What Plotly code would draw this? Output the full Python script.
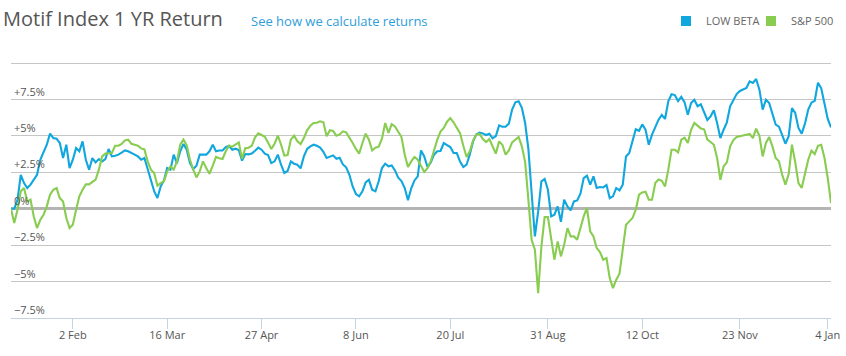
import plotly.graph_objects as go
import pandas as pd

# ---- data -------------------------------------------------------------
START = "2015-01-05"
END = "2016-01-05"
HOLIDAYS = ["2015-01-19", "2015-02-16", "2015-04-03", "2015-05-25", "2015-07-03",
            "2015-09-07", "2015-11-26", "2015-12-25", "2016-01-01"]

TICK_DATES = ["2015-02-02", "2015-03-16", "2015-04-27", "2015-06-08", "2015-07-20",
              "2015-08-31", "2015-10-12", "2015-11-23", "2016-01-04"]
TICK_LABELS = ["2 Feb", "16 Mar", "27 Apr", "8 Jun", "20 Jul",
               "31 Aug", "12 Oct", "23 Nov", "4 Jan"]

Y_TICKS = [-7.5, -5, -2.5, 0, 2.5, 5, 7.5, 10]
Y_LABELS = ["\u22127.5%", "\u22125%", "\u22122.5%", "0%", "+2.5%", "+5%", "+7.5%", ""]

LOW_BETA = [
    0.00, 0.00, 0.60, 2.33, 1.76, 1.42, 1.65, 2.00, 2.33, 3.36,
    3.94, 4.39, 5.15, 4.85, 4.81, 4.51, 3.48, 4.39, 2.79, 3.36,
    4.16, 3.94, 4.62, 3.36, 2.68, 3.48, 3.18, 3.41, 3.25, 3.41,
    4.10, 3.59, 3.64, 3.71, 3.85, 4.00, 3.94, 3.85, 3.71, 3.59,
    3.36, 3.48, 2.68, 1.90, 1.20, 0.73, 1.53, 1.94, 2.79, 2.68,
    3.71, 3.13, 3.94, 4.44, 4.05, 3.13, 2.72, 2.95, 3.71, 3.71,
    3.71, 3.94, 4.40, 3.94, 4.00, 4.00, 4.23, 4.32, 4.05, 4.12,
    4.03, 3.30, 3.75, 3.73, 3.78, 3.98, 4.19, 4.05, 3.78, 3.68,
    3.13, 3.25, 3.71, 3.02, 2.45, 2.59, 3.25, 3.09, 3.02, 2.77,
    3.59, 4.10, 4.28, 4.39, 4.32, 4.19, 3.91, 3.48, 3.59, 3.66,
    3.43, 3.50, 3.04, 2.84, 2.33, 1.53, 1.01, 0.85, 1.19, 1.81,
    1.99, 1.30, 1.19, 1.88, 2.79, 3.09, 2.91, 2.97, 2.63, 2.13,
    1.90, 1.42, 0.59, 1.40, 1.94, 2.22, 4.00, 3.59, 2.86, 3.18,
    3.71, 3.94, 3.96, 4.51, 4.37, 4.23, 3.82, 3.82, 3.23, 2.86,
    3.02, 3.73, 4.62, 5.10, 5.22, 5.17, 5.06, 5.15, 4.83, 4.99,
    5.72, 5.63, 5.63, 5.84, 6.80, 7.30, 7.37, 6.93, 5.88, 4.10,
    1.08, -1.90, -0.20, 1.88, 2.04, 1.30, -0.53, -0.41, 0.16, -0.90,
    0.62, 0.16, -0.11, 0.50, 0.57, 1.03, 2.10, 2.27, 1.65, 2.22,
    1.42, 1.49, 1.46, 1.62, 0.73, 0.85, 1.42, 1.26, 1.65, 3.59,
    3.82, 4.55, 5.45, 5.35, 5.79, 5.42, 4.39, 5.08, 5.65, 6.11,
    6.43, 6.16, 7.37, 7.85, 7.80, 7.39, 7.67, 7.30, 6.45, 7.25,
    7.48, 7.03, 7.16, 6.57, 6.09, 6.34, 6.75, 5.88, 4.85, 5.42,
    5.93, 7.03, 7.44, 7.87, 8.08, 8.19, 8.28, 8.74, 8.63, 8.90,
    8.17, 6.80, 7.48, 7.25, 6.45, 5.77, 5.63, 5.08, 4.46, 4.97,
    6.90, 6.57, 5.54, 5.15, 5.84, 6.80, 7.28, 7.41, 8.65, 8.26,
    7.30, 6.16, 5.58,
]

SP500 = [
    0.00, -0.98, -0.07, 1.19, 1.42, 0.50, 0.62, -0.53, -1.33, -0.76,
    -0.41, 0.16, 0.96, 1.30, 1.42, 0.73, 0.50, -0.64, -1.33, -1.10,
    -0.07, 0.85, 1.30, 1.67, 1.67, 1.81, 1.99, 2.68, 3.59, 3.78,
    3.78, 3.82, 4.32, 4.32, 4.45, 4.69, 4.74, 4.46, 4.39, 4.32,
    4.14, 4.07, 3.25, 2.68, 2.45, 1.58, 1.76, 1.88, 2.56, 2.91,
    2.68, 3.25, 4.39, 4.74, 4.35, 3.36, 2.68, 2.15, 2.56, 3.25,
    2.79, 2.40, 2.95, 3.55, 3.46, 3.41, 3.94, 4.32, 4.26, 4.39,
    4.55, 3.43, 4.15, 4.19, 4.32, 4.90, 5.17, 5.06, 4.94, 4.55,
    4.10, 4.46, 5.01, 4.39, 3.64, 3.68, 4.74, 5.01, 4.62, 4.44,
    4.85, 5.38, 5.70, 5.88, 5.90, 6.00, 5.93, 4.97, 5.38, 5.33,
    5.01, 5.10, 5.31, 5.24, 4.92, 4.51, 4.10, 3.78, 4.51, 5.15,
    4.74, 4.00, 4.19, 4.26, 4.80, 5.88, 5.20, 5.80, 5.65, 5.29,
    4.92, 3.71, 2.86, 3.25, 3.55, 3.36, 2.91, 2.52, 2.79, 3.25,
    4.00, 4.74, 5.29, 5.54, 5.97, 6.22, 5.93, 5.54, 5.19, 4.32,
    3.55, 3.94, 4.67, 5.10, 5.13, 4.78, 4.58, 4.78, 4.23, 3.78,
    4.62, 4.39, 3.71, 4.00, 4.55, 4.74, 4.92, 4.28, 3.20, 0.62,
    -2.13, -2.81, -5.79, -2.59, -0.57, -0.57, -2.13, -3.50, -2.24, -3.27,
    -2.47, -1.33, -1.90, -1.90, -2.13, -1.33, -0.53, 0.05, -1.56, -1.90,
    -2.70, -2.97, -3.50, -3.39, -4.76, -5.45, -4.87, -4.46, -2.93, -1.10,
    -0.87, -0.64, -0.07, 0.96, 1.12, 1.17, 0.62, 0.62, 1.76, 2.01,
    1.92, 1.53, 2.68, 4.05, 4.05, 3.87, 4.74, 4.87, 4.51, 5.42,
    5.88, 5.70, 5.51, 5.45, 4.74, 4.58, 4.39, 3.48, 1.99, 2.91,
    3.18, 4.28, 4.71, 4.92, 4.99, 5.03, 5.08, 5.13, 4.85, 5.50,
    5.00, 3.59, 4.51, 4.92, 4.28, 3.48, 3.25, 2.33, 1.65, 2.38,
    4.40, 3.20, 1.76, 1.42, 2.33, 3.36, 3.98, 3.75, 4.32, 4.39,
    3.48, 2.10, 0.39,
]

SERIES = [("LOW BETA", LOW_BETA, "#10a6de"), ("S&P 500", SP500, "#88cc50")]

# trading-day calendar (NYSE sessions)
dates = pd.bdate_range(START, END, freq="C", holidays=HOLIDAYS)

# ---- figure -----------------------------------------------------------
fig = go.Figure()
for name, vals, color in SERIES:
    fig.add_trace(go.Scatter(
        x=dates[:len(vals)], y=vals, mode="lines", name=name,
        line=dict(color=color, width=2.1), legendgroup=name, showlegend=False,
        hovertemplate="%{y:.2f}%<extra>" + name + "</extra>",
    ))
for name, vals, color in SERIES:
    fig.add_trace(go.Scatter(
        x=[None], y=[None], mode="markers", name=name, legendgroup=name,
        marker=dict(symbol="square", size=10, color=color),
    ))

FONT = "Open Sans, Arial, sans-serif"
W, H = 846, 356
Y_TOP_PAD = 2                       # px above the +10% gridline so it is drawn
ML, MR, MT, MB = 11, 15, 63 - Y_TOP_PAD, 38
PW, PH = W - ML - MR, H - MT - MB
Y_MIN, Y_MAX = -7.5, 10.0
Y_MAX_R = Y_MAX + Y_TOP_PAD * (Y_MAX - Y_MIN) / (PH - Y_TOP_PAD)


def px_x(p):
    return (p - ML) / PW


def px_y(p):
    return 1 + (MT - p) / PH


fig.update_layout(
    width=W, height=H,
    margin=dict(l=ML, r=MR, t=MT, b=MB, pad=0, autoexpand=False),
    paper_bgcolor="white", plot_bgcolor="white",
    font=dict(family=FONT, color="#555555", size=11),
    showlegend=True,
    legend=dict(
        orientation="h", x=px_x(666), y=px_y(21), xanchor="left", yanchor="middle",
        font=dict(size=11, color="#666666"), bgcolor="rgba(0,0,0,0)",
        entrywidth=40, entrywidthmode="pixels", itemwidth=30,
    ),
    annotations=[
        dict(text="Motif Index 1 YR Return", xref="paper", yref="paper",
             x=px_x(1), y=px_y(19), xanchor="left", yanchor="middle", showarrow=False,
             font=dict(size=20, color="#555555", family=FONT)),
        dict(text="See how we calculate returns", xref="paper", yref="paper",
             x=px_x(249), y=px_y(21), xanchor="left", yanchor="middle", showarrow=False,
             font=dict(size=13, color="#2f9ddb", family=FONT)),
    ],
    xaxis=dict(
        type="date", range=[dates[0], dates[-1]],
        rangebreaks=[dict(bounds=["sat", "mon"]), dict(values=HOLIDAYS)],
        tickvals=TICK_DATES, ticktext=TICK_LABELS,
        ticks="outside", ticklen=10, tickwidth=1, tickcolor="#c4d2e2",
        ticklabelstandoff=-3,
        showline=True, linecolor="#c4d2e2", linewidth=1,
        showgrid=False, zeroline=False,
        tickfont=dict(size=11, color="#555555"),
        fixedrange=True,
    ),
    yaxis=dict(
        range=[Y_MIN, Y_MAX_R], tickvals=Y_TICKS, ticktext=Y_LABELS,
        ticklabelposition="inside top", ticks="",
        showgrid=True, gridcolor="#c6c6c6", gridwidth=1,
        zeroline=True, zerolinecolor="#b4b4b4", zerolinewidth=2.5,
        showline=False,
        tickfont=dict(size=11, color="#555555"),
        fixedrange=True,
    ),
)

fig.write_html("out.html", config={"displayModeBar": False},
               post_script="document.body.style.margin='0px';")
